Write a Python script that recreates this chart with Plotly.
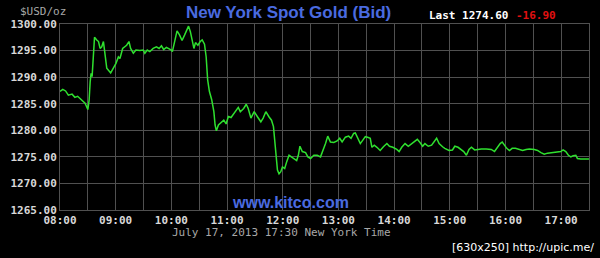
import pandas as pd
import plotly.graph_objects as go

# minutes after 08:00 New York time, 17 July 2013
minutes_after_open = [
    0, 3, 6, 9, 13, 16, 19, 24, 27, 30, 31.4, 32.5, 33.5, 34.6, 36.1, 37.2, 39.6, 41.5, 43.2, 45,
    46.8, 48.5, 50.4, 52.2, 54.6, 57.5, 60.3, 62.9, 64.6, 67.5, 70, 71.8, 74.3, 76.1, 79, 81.8,
    86, 89.7, 91.4, 94, 96.8, 100.4, 103.9, 106.8, 109.3, 111.7, 114.6, 118.2, 120, 121.1, 123.5,
    126.1, 128.9, 131.5, 134.2, 136.8, 138.5, 140.4, 142.5, 144.3, 146, 148.6, 151.1, 153.2,
    155.7, 157.5, 159.1, 161, 163.4, 165.8, 167.1, 168.5, 170.7, 174.3, 176.5, 179, 181.4,
    184.3, 187.2, 189.6, 192.1, 194.3, 197.9, 200.7, 202.8, 205.7, 209.2, 212.9, 216.4, 218.9,
    221.8, 225.3, 227.9, 230, 231.4, 232.5, 234.3, 236, 237.9, 239.7, 242.1, 244.3, 246.8,
    249.3, 252.1, 255, 256.8, 258.5, 261.1, 264.6, 267.1, 270, 273.5, 277.2, 280.7, 284.3,
    286.1, 288.5, 291.4, 295, 298.6, 301.4, 304, 307.5, 311, 313.6, 316.4, 318.2, 320.7, 323.6,
    326.5, 329, 331.4, 334.3, 336.1, 338.6, 341.5, 345, 348.5, 352.2, 355, 358.6, 362.9, 365.4,
    368.2, 371.8, 375.3, 379, 382.5, 385, 387.9, 390.8, 393.2, 396.8, 400.4, 402.9, 405.8,
    408.5, 410, 412.2, 414.6, 419.2, 422.9, 425.4, 428.9, 432.5, 435, 437.9, 440.7, 443.3,
    446.8, 450.3, 454, 459.3, 464.7, 468.2, 471.8, 474.3, 476.5, 478.9, 481.4, 484.3, 487.2,
    490.7, 495, 498.5, 502.2, 505.7, 511.1, 514.6, 518.2, 521.8, 525.3, 530.7, 536, 539.6,
    542.1, 545, 547.8, 550.4, 552.9, 555.8, 557.5, 561.1, 566.5, 570,
]
bid_usd_oz = [
    1287.3, 1287.7, 1287.4, 1286.6, 1286.8, 1286.2, 1286.4, 1285.6, 1285.1, 1283.9, 1285.7,
    1289.1, 1290.7, 1290.1, 1295.7, 1297.5, 1297.0, 1296.7, 1295.4, 1295.7, 1296.7, 1294.5,
    1291.7, 1291.3, 1290.8, 1291.7, 1292.6, 1293.8, 1293.5, 1295.4, 1295.7, 1296.0, 1296.7,
    1295.4, 1294.5, 1295.1, 1295.0, 1295.1, 1294.5, 1295.1, 1294.8, 1295.4, 1295.7, 1295.4,
    1295.9, 1295.2, 1295.6, 1295.2, 1295.1, 1294.8, 1297.0, 1298.7, 1297.9, 1296.9, 1297.9,
    1298.9, 1299.6, 1298.6, 1297.0, 1295.4, 1296.5, 1296.0, 1296.7, 1297.0, 1296.2, 1293.8,
    1289.5, 1287.3, 1285.8, 1283.5, 1281.0, 1279.9, 1281.0, 1281.6, 1281.9, 1281.2, 1282.6,
    1282.4, 1283.2, 1283.7, 1284.3, 1283.5, 1284.1, 1284.9, 1284.1, 1282.3, 1283.5, 1282.5,
    1281.6, 1282.3, 1283.5, 1282.5, 1281.9, 1280.7, 1278.2, 1275.0, 1272.5, 1271.8, 1272.2,
    1273.1, 1272.8, 1274.1, 1275.3, 1275.0, 1274.7, 1274.3, 1275.3, 1277.0, 1276.0, 1275.8,
    1275.0, 1274.7, 1275.3, 1275.3, 1275.0, 1276.6, 1277.5, 1278.9, 1277.8, 1277.7, 1278.0,
    1278.5, 1277.8, 1278.7, 1278.9, 1278.5, 1279.4, 1279.5, 1278.5, 1277.5, 1278.2, 1278.8,
    1278.7, 1278.5, 1276.8, 1277.2, 1276.8, 1276.2, 1276.9, 1277.5, 1277.0, 1276.8, 1276.4,
    1276.0, 1276.8, 1277.5, 1277.0, 1277.5, 1277.8, 1278.3, 1277.7, 1277.0, 1277.5, 1277.0,
    1277.2, 1277.8, 1278.5, 1277.5, 1277.2, 1276.9, 1276.6, 1276.2, 1276.3, 1277.0, 1276.8,
    1276.4, 1276.0, 1275.3, 1276.4, 1276.8, 1276.3, 1276.4, 1276.5, 1276.5, 1276.4, 1276.0,
    1276.9, 1277.5, 1277.8, 1277.2, 1276.6, 1276.2, 1276.6, 1276.6, 1276.3, 1276.2, 1276.4,
    1276.5, 1276.4, 1276.2, 1275.8, 1275.5, 1275.7, 1275.8, 1275.9, 1276.0, 1276.3, 1276.0,
    1275.3, 1275.0, 1275.2, 1275.3, 1274.7, 1274.6, 1274.6, 1274.6,
]
y_ticks = [1265, 1270, 1275, 1280, 1285, 1290, 1295, 1300]
x_tick_labels = ["08:00", "09:00", "10:00", "11:00", "12:00", "13:00", "14:00", "15:00", "16:00", "17:00"]

session_start = pd.Timestamp("2013-07-17 08:00")
times = session_start + pd.to_timedelta(minutes_after_open, unit="m")
x_tick_vals = [pd.Timestamp("2013-07-17 " + t) for t in x_tick_labels]

MONO = "DejaVu Sans Mono"
GRID = "#505050"

fig = go.Figure()
fig.add_trace(go.Scatter(
    x=times, y=bid_usd_oz, mode="lines",
    line=dict(color="#2fe02f", width=1.5), hoverinfo="skip", showlegend=False,
))

fig.update_layout(
    width=600, height=258,
    margin=dict(l=58, r=10, t=24, b=48),
    paper_bgcolor="black", plot_bgcolor="black",
    xaxis=dict(
        range=[session_start, pd.Timestamp("2013-07-17 17:30")],
        tickvals=x_tick_vals, ticktext=[f"<b>{t}</b>" for t in x_tick_labels],
        showgrid=True, gridcolor=GRID, gridwidth=1,
        minor=dict(dtick=30 * 60 * 1000, showgrid=True, gridcolor=GRID, gridwidth=1),
        showline=True, linecolor=GRID, linewidth=1, mirror=True,
        ticks="", zeroline=False,
        tickfont=dict(family=MONO, size=11, color="#d8d8d8"),
    ),
    yaxis=dict(
        range=[1265, 1300], tickvals=y_ticks,
        ticktext=[f"<b>{v:.2f}</b>" for v in y_ticks],
        showgrid=True, gridcolor=GRID, gridwidth=1,
        showline=True, linecolor=GRID, linewidth=1, mirror=True,
        ticks="", zeroline=False,
        tickfont=dict(family=MONO, size=11, color="#d8d8d8"),
    ),
)

# pixel positions of the text labels on the 600x258 canvas
plot_l, plot_r, plot_t, plot_b = 58, 590, 24, 210
annotations = [
    dict(text="<b>New York Spot Gold (Bid)</b>", x=288, y=12, font=dict(family="Liberation Sans", size=17, color="#4a6be0")),
    dict(text="$USD/oz", x=41, y=11, font=dict(family=MONO, size=11, color="#a8a8a8")),
    dict(text="<b>Last 1274.60</b>", x=469, y=15, font=dict(family=MONO, size=11, color="#ffffff")),
    dict(text="<b>-16.90</b>", x=537, y=15, font=dict(family=MONO, size=11, color="#e01010")),
    dict(text="<b>www.kitco.com</b>", x=290, y=202, font=dict(family="Liberation Sans", size=16, color="#4a6be0")),
    dict(text="July 17, 2013 17:30 New York Time", x=281, y=233, font=dict(family=MONO, size=11, color="#a8a8a8")),
    dict(text="[630x250] http://upic.me/", x=524, y=247, font=dict(family="DejaVu Sans", size=11, color="#ffffff")),
]
for a in annotations:
    fig.add_annotation(
        text=a["text"],
        x=(a["x"] - plot_l) / (plot_r - plot_l),
        y=(plot_b - a["y"]) / (plot_b - plot_t),
        xref="paper", yref="paper",
        xanchor="center", yanchor="middle", showarrow=False, font=a["font"],
    )

fig.write_html("out.html")
